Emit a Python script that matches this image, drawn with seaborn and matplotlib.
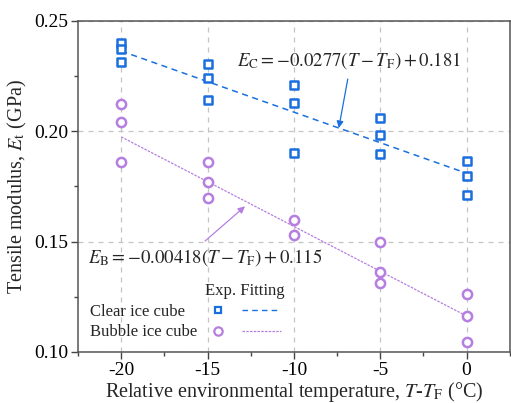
import numpy as np
import pandas as pd
import matplotlib
matplotlib.use("Agg")
import matplotlib.pyplot as plt
import seaborn as sns
from matplotlib.lines import Line2D
from matplotlib.ticker import MultipleLocator

# ---- data ----
temps_clear = [-20, -20, -20, -15, -15, -15, -10, -10, -10, -5, -5, -5, 0, 0, 0]
E_clear = [0.240, 0.2375, 0.2315, 0.2305, 0.2240, 0.2140, 0.2210, 0.2128, 0.1900,
           0.2060, 0.1983, 0.1897, 0.1866, 0.1798, 0.1712]
temps_bubble = [-20, -20, -20, -15, -15, -15, -10, -10, -5, -5, -5, 0, 0, 0]
E_bubble = [0.2124, 0.2040, 0.1861, 0.1861, 0.1771, 0.1698, 0.1598, 0.1532,
            0.1499, 0.1363, 0.1313, 0.1263, 0.1163, 0.1046]
fit_x = [-20, 0]
slope_clear, icpt_clear = -0.00277, 0.181
slope_bubble, icpt_bubble = -0.00406, 0.1163
x_ticks = [-20, -15, -10, -5, 0]
x_ticklabels = ["-20", "-15", "-10", "-5", "0"]
y_ticks = [0.10, 0.15, 0.20, 0.25]
series_names = ["Clear ice cube", "Bubble ice cube"]

blue = "#1a6fdf"
purple = "#b57ee0"

sns.set_theme(style="ticks")
plt.rcParams["font.family"] = ["Liberation Serif", "DejaVu Serif"]
plt.rcParams["mathtext.fontset"] = "stix"

fig = plt.figure(figsize=(5.11, 4.03), dpi=100)
ax = fig.add_axes([0.1526, 0.1266, 0.845, 0.8213])

df_c = pd.DataFrame({"T": temps_clear, "E": E_clear})
df_b = pd.DataFrame({"T": temps_bubble, "E": E_bubble})
fx = np.array(fit_x, dtype=float)
df_fc = pd.DataFrame({"T": fx, "E": slope_clear * fx + icpt_clear})
df_fb = pd.DataFrame({"T": fx, "E": slope_bubble * fx + icpt_bubble})

ax.grid(True, color="#c4c4c4", linestyle=(0, (4, 4)), linewidth=0.9)
ax.set_axisbelow(True)

sns.lineplot(data=df_fc, x="T", y="E", ax=ax, color=blue, linewidth=1.1,
             zorder=2).lines[-1].set_linestyle((0, (4, 3)))
sns.lineplot(data=df_fb, x="T", y="E", ax=ax, color=purple, linewidth=0.9,
             zorder=2).lines[-1].set_linestyle((0, (2, 1)))
sns.scatterplot(data=df_c, x="T", y="E", ax=ax, marker="s", s=34,
                facecolor="white", edgecolor=blue, linewidth=1.8, zorder=3)
sns.scatterplot(data=df_b, x="T", y="E", ax=ax, marker="o", s=44,
                facecolor="white", edgecolor=purple, linewidth=1.8, zorder=3)

ax.set_xlim(-22.5, 2.5)
ax.set_ylim(0.10, 0.25)
ax.set_xticks(x_ticks)
ax.set_xticklabels(x_ticklabels)
ax.set_yticks(y_ticks)
ax.set_yticklabels([f"{v:.2f}" for v in y_ticks])
ax.xaxis.set_minor_locator(MultipleLocator(2.5))
ax.yaxis.set_minor_locator(MultipleLocator(0.025))
ax.tick_params(which="major", direction="out", length=5, width=1, colors="#444444",
               labelsize=14, labelcolor="black", pad=2)
ax.tick_params(which="minor", direction="out", length=3, width=1, colors="#444444")
for sp in ax.spines.values():
    sp.set_color("#555555")
    sp.set_linewidth(1.1)

ax.set_xlabel(r"Relative environmental temperature, $T$-$T_\mathrm{F}$ (°C)",
              fontsize=14.5, labelpad=1)
ax.set_ylabel(r"Tensile modulus, $E_\mathrm{t}$ (GPa)", fontsize=14.5, labelpad=4)

ax.text(-13.3, 0.2323, r"$E_\mathrm{C}=-0.0277\left(T-T_\mathrm{F}\right)+0.181$",
        fontsize=13.5, ha="left", va="center")
ax.text(-21.9, 0.1426, r"$E_\mathrm{B}=-0.00418\left(T-T_\mathrm{F}\right)+0.115$",
        fontsize=13.5, ha="left", va="center")
ax.annotate("", xy=(-7.4, 0.2015), xytext=(-6.88, 0.2237),
            arrowprops=dict(arrowstyle="-|>", color=blue, lw=0.9,
                            mutation_scale=10, shrinkA=0, shrinkB=0))
ax.annotate("", xy=(-12.83, 0.1660), xytext=(-15.14, 0.1503),
            arrowprops=dict(arrowstyle="-|>", color=purple, lw=0.9,
                            mutation_scale=10, shrinkA=0, shrinkB=0))

# legend: handles only, labels drawn as left-aligned text
h_sq = Line2D([], [], marker="s", linestyle="none", markersize=5,
              markerfacecolor="white", markeredgecolor=blue, markeredgewidth=1.6)
h_ci = Line2D([], [], marker="o", linestyle="none", markersize=6,
              markerfacecolor="white", markeredgecolor=purple, markeredgewidth=1.6)
h_ld = Line2D([], [], color=blue, linewidth=1.0, linestyle=(0, (4, 3)))
h_lb = Line2D([], [], color=purple, linewidth=0.9, linestyle=(0, (2, 1)))
leg = ax.legend([h_sq, h_ci, h_ld, h_lb], ["", "", "", ""],
                ncol=2, markerfirst=True, frameon=False, fontsize=12,
                loc="center left", bbox_to_anchor=(0.2539, 0.0891),
                handlelength=2.3, handletextpad=0.0, columnspacing=0.28,
                labelspacing=0.32, borderpad=0.2)
ax.text(-21.79, 0.1179, series_names[0], fontsize=12, ha="left", va="center")
ax.text(-21.79, 0.1091, series_names[1], fontsize=12, ha="left", va="center")
ax.text(-15.14, 0.1277, "Exp. Fitting", fontsize=12, ha="left", va="center")

fig.savefig("out.png", dpi=100)
